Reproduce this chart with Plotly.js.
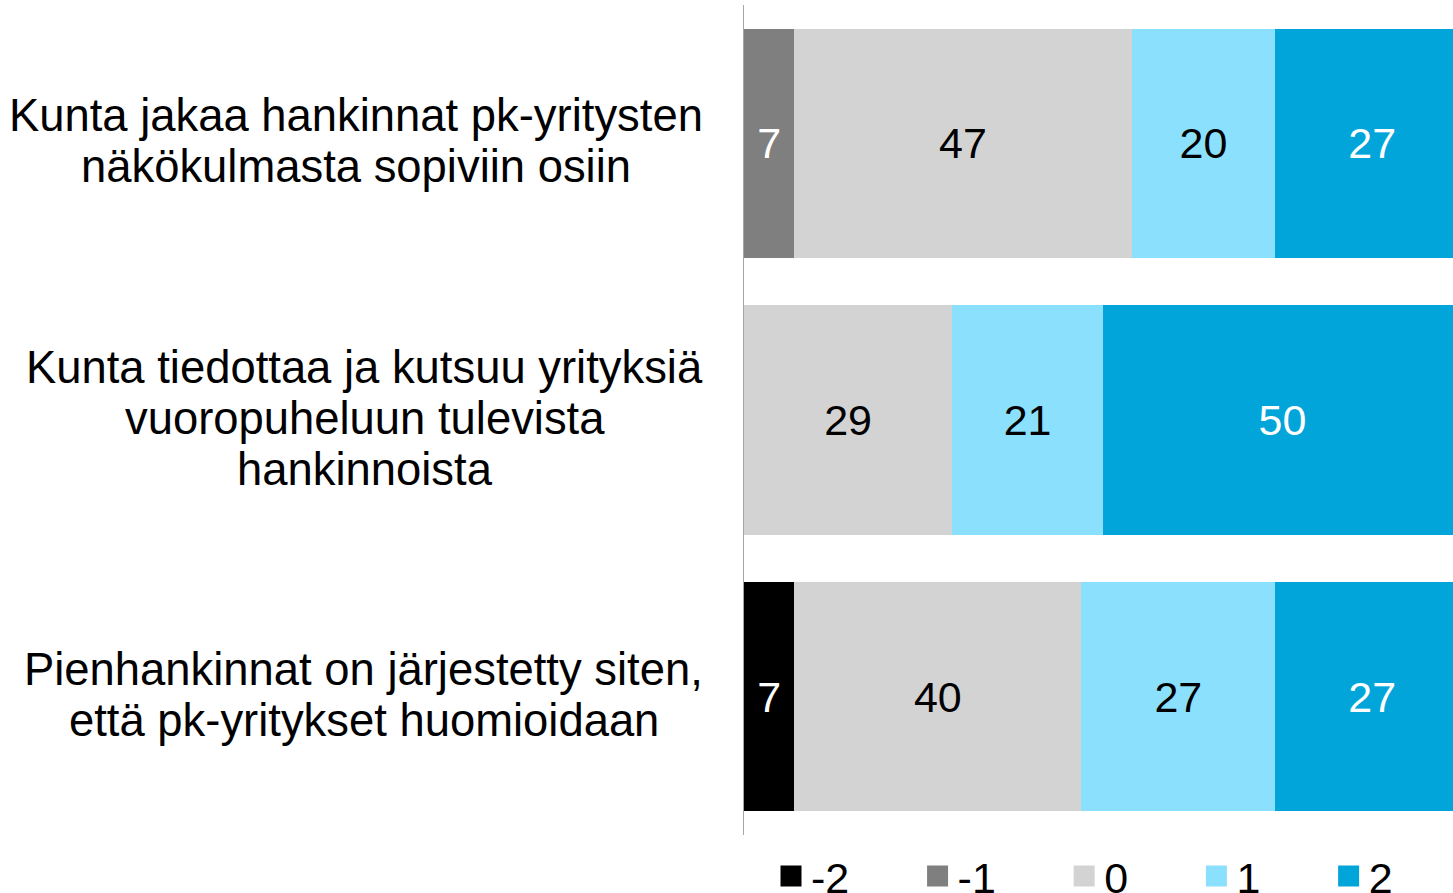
<!DOCTYPE html>
<html><head><meta charset="utf-8">
<script src="https://cdn.plot.ly/plotly-3.0.1.min.js"></script>
<style>html,body{margin:0;padding:0;background:#fff;} #chart{width:1453px;height:893px;}</style>
</head><body><div id="chart"></div>
<script>
const categoryLines = [
  ["Kunta jakaa hankinnat pk-yritysten", "näkökulmasta sopiviin osiin"],
  ["Kunta tiedottaa ja kutsuu yrityksiä", "vuoropuheluun tulevista", "hankinnoista"],
  ["Pienhankinnat on järjestetty siten,", "että pk-yritykset huomioidaan"]
];
const categories = categoryLines.map(l => l.join(" "));
const seriesNames = ["-2", "-1", "0", "1", "2"];
const valuesM2 = [null, null, 7];
const valuesM1 = [7, null, null];
const values0 = [47, 29, 40];
const values1 = [20, 21, 27];
const values2 = [27, 50, 27];
const seriesValues = [valuesM2, valuesM1, values0, values1, values2];
const colors = ["#000000", "#7f7f7f", "#d3d3d3", "#8be0fd", "#02a5da"];
const textColors = ["#ffffff", "#ffffff", "#000000", "#000000", "#ffffff"];

const FONT = '"Liberation Sans", Arial, sans-serif';
const traces = [];
seriesNames.forEach((name, s) => {
  traces.push({
    type: 'bar', orientation: 'h', name: name,
    y: categories, x: seriesValues[s],
    marker: {color: colors[s], line: {width: 0}},
    text: seriesValues[s].map(v => v == null ? '' : String(v)),
    textposition: 'inside', insidetextanchor: 'middle',
    textfont: {family: FONT, size: 43, color: textColors[s]},
    constraintext: 'none', showlegend: false, hoverinfo: 'skip', legendgroup: name
  });
});
const legendPad = '\u00A0\u00A0\u00A0\u00A0\u00A0\u200A';
seriesNames.forEach((name, s) => {
  traces.push({
    type: 'scatter', mode: 'markers', name: name + legendPad,
    x: [null], y: [null], legendgroup: name, showlegend: true,
    marker: {symbol: 'square', size: 16, color: colors[s], line: {width: 5, color: colors[s]}},
    hoverinfo: 'skip'
  });
});

const LABEL_SIZE = 45.4;
const canvas = document.createElement('canvas');
const ctx = canvas.getContext('2d');
ctx.font = LABEL_SIZE + 'px ' + FONT;
const plotLeft = 744, plotW = 709, labelRight = 703, lineStep = 51;
const annotations = [];
categoryLines.forEach((lines, c) => {
  const maxW = Math.max(...lines.map(t => ctx.measureText(t).width));
  const cx = labelRight - maxW / 2;
  const n = lines.length;
  lines.forEach((t, i) => {
    annotations.push({
      xref: 'paper', x: (cx - plotLeft) / plotW, xanchor: 'center',
      yref: 'y', y: c, yanchor: 'middle', yshift: ((n - 1) / 2 - i) * lineStep + 2,
      text: t, showarrow: false, font: {family: FONT, size: LABEL_SIZE, color: '#000000'}
    });
  });
});

const layout = {
  width: 1453, height: 893,
  margin: {l: 744, r: 0, t: 5, b: 58, autoexpand: false},
  paper_bgcolor: '#ffffff', plot_bgcolor: '#ffffff',
  barmode: 'stack', bargap: 0.17,
  font: {family: FONT, color: '#000000'},
  xaxis: {range: [0, 98.75], visible: false, showgrid: false, zeroline: false, fixedrange: true},
  yaxis: {type: 'category', autorange: 'reversed', showline: true, linecolor: '#a6a6a6', linewidth: 1,
          showticklabels: false, ticks: '', showgrid: false, zeroline: false, fixedrange: true},
  legend: {orientation: 'h', x: (771 - plotLeft) / plotW, xanchor: 'left', y: -0.0078, yanchor: 'top',
           font: {family: FONT, size: 43, color: '#000000'}, bgcolor: 'rgba(0,0,0,0)', traceorder: 'normal'},
  annotations: annotations,
  showlegend: true
};
Plotly.newPlot('chart', traces, layout, {displayModeBar: false, staticPlot: true});
</script></body></html>
